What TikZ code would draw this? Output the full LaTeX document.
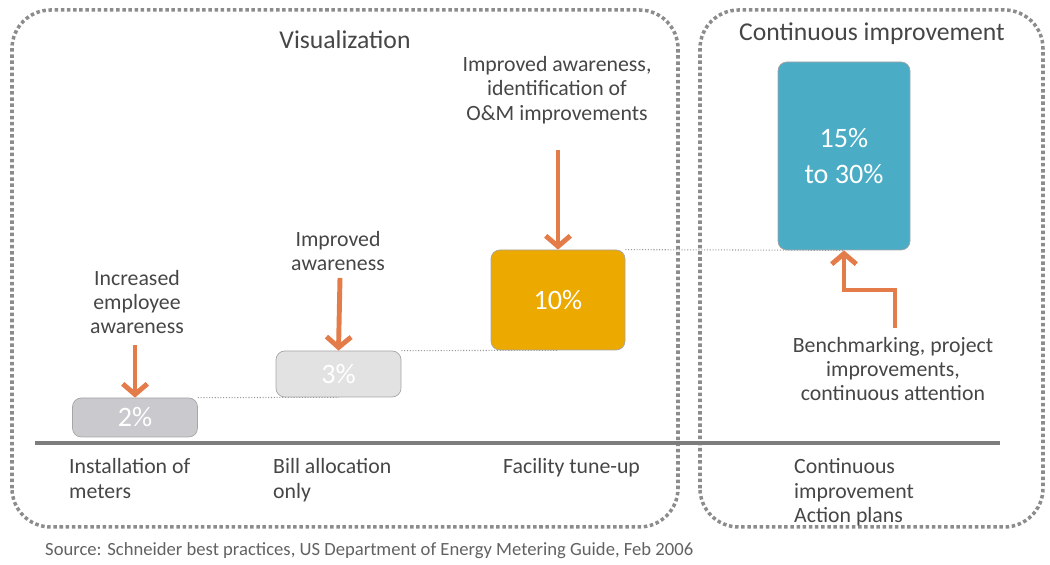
\documentclass[tikz,border=0pt]{standalone}
\usepackage{fontspec}
\setmainfont{Carlito}
\usepackage{tikz}
\usetikzlibrary{arrows.meta}
\definecolor{textgray}{RGB}{70,70,70}
\definecolor{framegray}{RGB}{140,140,140}
\definecolor{axisgray}{RGB}{125,125,125}
\definecolor{pushorange}{RGB}{228,124,74}
\definecolor{stepgold}{RGB}{236,169,0}
\definecolor{stepblue}{RGB}{75,172,198}
\definecolor{lowgray}{RGB}{202,202,206}
\definecolor{palegray}{RGB}{226,226,226}
\pgfdeclarelayer{back}
\pgfsetlayers{back,main}

\begin{document}
\begin{tikzpicture}[
    font=\fontsize{12.4}{13.8}\selectfont,
    text=textgray,
    frame/.style={draw=framegray, line width=2pt, dash pattern=on 2pt off 1.5pt, rounded corners=22pt},
    stepbox/.style={draw=gray!70, fill=#1, rounded corners=5pt, text=white, font=\fontsize{16}{18}\selectfont},
    stepbox/.default=lowgray,
    push/.style={draw=pushorange, line width=2.8pt, -{Straight Barb[length=6pt, width=14pt, line width=2.8pt]}},
    level/.style={draw=gray!80, densely dotted, line width=0.6pt},
    note/.style={align=center},
    stage/.style={align=left, anchor=north west},
    heading/.style={font=\fontsize{14.6}{16}\selectfont}
]
    \useasboundingbox (0,0) rectangle (21,11.3);

    % ==========================================
    % FRAMES
    % ==========================================
    \draw[frame] (0.24,0.76) rectangle (13.56,11.1);
    \draw[frame] (14.0,0.76) rectangle (20.86,11.1);

    \node[heading] (vis) at (6.9,10.5) {Visualization};
    \node[heading] (cont) at (17.44,10.62) {Continuous improvement};

    % ==========================================
    % STEPS
    % ==========================================
    \node[stepbox=lowgray, minimum width=2.5cm, minimum height=0.78cm] (s2) at (2.7,2.95) {2\%};
    \node[stepbox=palegray, minimum width=2.5cm, minimum height=0.92cm] (s3) at (6.77,3.82) {3\%};
    \node[stepbox=stepgold, minimum width=2.68cm, minimum height=2.0cm] (s10) at (11.16,5.3) {10\%};
    \node[stepbox=stepblue, minimum width=2.64cm, minimum height=3.76cm, align=center,
          font=\fontsize{16}{20}\selectfont] (s30) at (16.88,8.18) {15\%\\to 30\%};

    % Level lines, kept behind the steps
    \begin{pgfonlayer}{back}
        \draw[level] (s2.north east) -- (s3.south);
        \draw[level] (s3.north east) -- (s10.south);
        \draw[level] (s10.north east) -- (s30.south);
    \end{pgfonlayer}

    % ==========================================
    % AXIS & STAGES
    % ==========================================
    \coordinate (ax_l) at (0.7,2.44);
    \coordinate (ax_r) at (20.0,2.44);
    \draw[axisgray, line width=2.6pt] (ax_l) -- (ax_r);

    \node[stage] (st1) at (1.26,2.25) {Installation of\\meters};
    \node[stage] (st2) at (5.34,2.25) {Bill allocation\\only};
    \node[stage] (st3) at (9.94,2.25) {Facility tune-up};
    \node[stage] (st4) at (15.76,2.25) {Continuous\\improvement\\Action plans};

    % ==========================================
    % DRIVERS
    % ==========================================
    \node[note] (d2) at (2.74,5.26) {Increased\\employee\\awareness};
    \node[note] (d3) at (6.76,6.28) {Improved\\awareness};
    \node[note] (d10) at (11.14,9.5) {Improved awareness,\\identification of\\O\&M improvements};
    \node[note] (d30) at (17.86,3.92) {Benchmarking, project\\improvements,\\continuous attention};

    \coordinate (t2) at (2.7,4.4);
    \coordinate (t3) at (6.8,5.74);
    \coordinate (t10) at (11.16,8.3);
    \coordinate (t30) at (17.9,4.74);

    \draw[push] (t2) -- (s2.north);
    \draw[push] (t3) -- (s3.north);
    \draw[push] (t10) -- (s10.north);
    \draw[push] (t30) |- (16.88,5.5) -- (s30.south);

    % Source
    \node[anchor=west, font=\fontsize{10.6}{12}\selectfont, text=textgray!85] (src) at (0.78,0.28)
        {Source: Schneider best practices, US Department of Energy Metering Guide, Feb 2006};

\end{tikzpicture}
\end{document}
